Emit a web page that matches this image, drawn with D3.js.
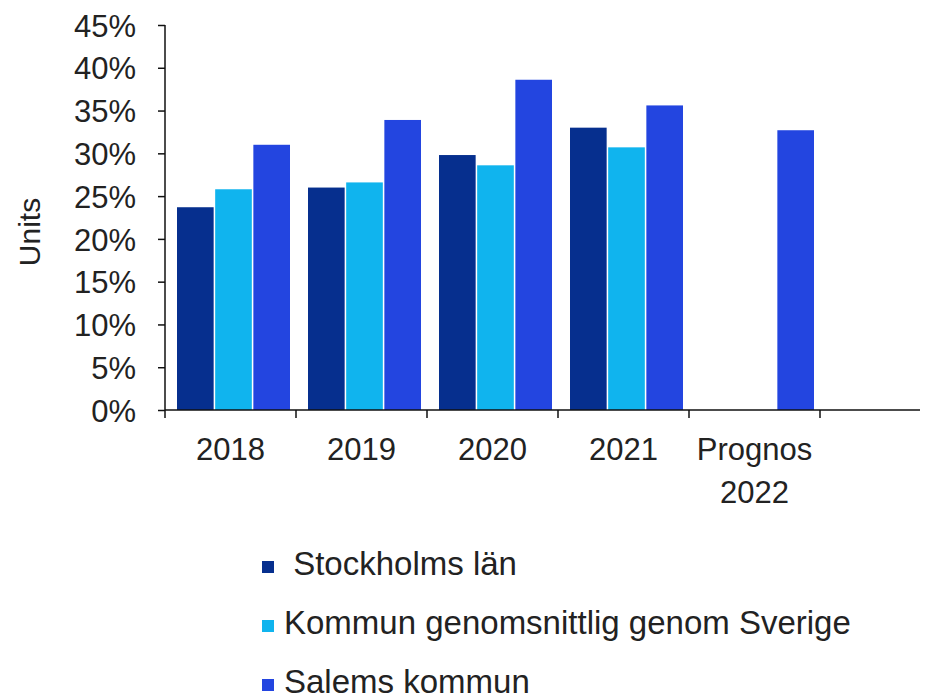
<!DOCTYPE html>
<html>
<head>
<meta charset="utf-8">
<script src="https://cdn.jsdelivr.net/npm/d3@7"></script>
<style>
  body { margin: 0; background: #fff; }
  svg { font-family: "Liberation Sans", Arial, sans-serif; }
</style>
</head>
<body>
<div id="chart"></div>
<script>
// kategorier och serier
var categories = ["2018", "2019", "2020", "2021", "Prognos 2022"];
var seriesNames = [" Stockholms län", "Kommun genomsnittlig genom Sverige", "Salems kommun"];
var stockholm = [23.7, 26.0, 29.8, 33.0, null];
var kommunSnitt = [25.8, 26.6, 28.6, 30.7, null];
var salem = [31.0, 33.9, 38.6, 35.6, 32.7];
var yTicks = [0, 5, 10, 15, 20, 25, 30, 35, 40, 45];
var colors = ["#062f8e", "#10b4ee", "#2345e0"];

var width = 936, height = 700;
var left = 165, zeroY = 410, topY = 25;

var svg = d3.select("#chart").append("svg")
    .attr("width", width)
    .attr("height", height);

var allSeries = [stockholm, kommunSnitt, salem];

var x0 = d3.scaleBand().domain(categories).range([left, left + 131 * categories.length]).padding(0);
var x1 = d3.scaleBand().domain(d3.range(seriesNames.length)).range([12, 125]).paddingInner(0.04);
var y = d3.scaleLinear().domain([0, 45]).range([zeroY, topY]);

//staplar
var groups = svg.selectAll("g.cat").data(categories)
    .enter().append("g").attr("class", "cat")
    .attr("transform", function (d) { return "translate(" + x0(d) + ",0)"; });

groups.selectAll("rect")
    .data(function (d, i) {
        return allSeries.map(function (s, k) { return { k: k, v: s[i] }; })
            .filter(function (o) { return o.v != null; });
    })
    .enter().append("rect")
    .attr("x", function (d) { return x1(d.k); })
    .attr("y", function (d) { return y(d.v); })
    .attr("width", x1.bandwidth())
    .attr("height", function (d) { return zeroY - y(d.v); })
    .attr("fill", function (d) { return colors[d.k]; });

// y-axel
var yAxis = svg.append("g")
    .attr("transform", "translate(" + left + ",0)")
    .call(d3.axisLeft(y).tickValues(yTicks).tickSize(7)
        .tickFormat(function (d) { return d + "%"; }));
yAxis.select(".domain").attr("d", "M0," + topY + "V" + (zeroY + 8)).attr("stroke", "#111").attr("stroke-width", 1.5);
yAxis.selectAll(".tick line").attr("stroke", "#111").attr("stroke-width", 1.5);
yAxis.selectAll(".tick text").attr("font-size", 31).attr("fill", "#222").attr("x", -29).attr("dy", "0.36em");

// x-axel
var xAxis = svg.append("g")
    .attr("transform", "translate(0," + zeroY + ")")
    .call(d3.axisBottom(x0).tickSize(0).tickPadding(0));
xAxis.select(".domain").attr("d", "M" + left + ",0H920").attr("stroke", "#111").attr("stroke-width", 1.5);
xAxis.selectAll(".tick text").attr("font-size", 31).attr("fill", "#222").attr("dy", null).attr("y", 0)
    .each(function (d) {
        var t = d3.select(this);
        var parts = d.split(" ");
        t.text(null);
        parts.forEach(function (p, i) {
            t.append("tspan").attr("x", 0).attr("y", 50 + i * 43).text(p);
        });
    });

// kategorigränser
xAxis.selectAll("line.sep").data(categories)
    .enter().append("line").attr("class", "sep")
    .attr("x1", function (d) { return x0(d) + x0.step(); })
    .attr("x2", function (d) { return x0(d) + x0.step(); })
    .attr("y1", 0).attr("y2", 8)
    .attr("stroke", "#111").attr("stroke-width", 1.5);

// y-etikett
svg.append("text")
    .attr("transform", "translate(40,232) rotate(-90)")
    .attr("text-anchor", "middle")
    .attr("font-size", 30)
    .attr("fill", "#222")
    .text("Units");

// legend
var legend = svg.selectAll("g.legend").data(seriesNames)
    .enter().append("g").attr("class", "legend")
    .attr("transform", function (d, i) { return "translate(262," + (575 + i * 59) + ")"; });
legend.append("rect")
    .attr("x", 0).attr("y", -14).attr("width", 12).attr("height", 12)
    .attr("fill", function (d, i) { return colors[i]; });
legend.append("text")
    .attr("x", 22).attr("y", 0)
    .attr("font-size", 33).attr("fill", "#222")
    .attr("xml:space", "preserve")
    .style("white-space", "pre")
    .text(function (d) { return d; });
</script>
</body>
</html>
